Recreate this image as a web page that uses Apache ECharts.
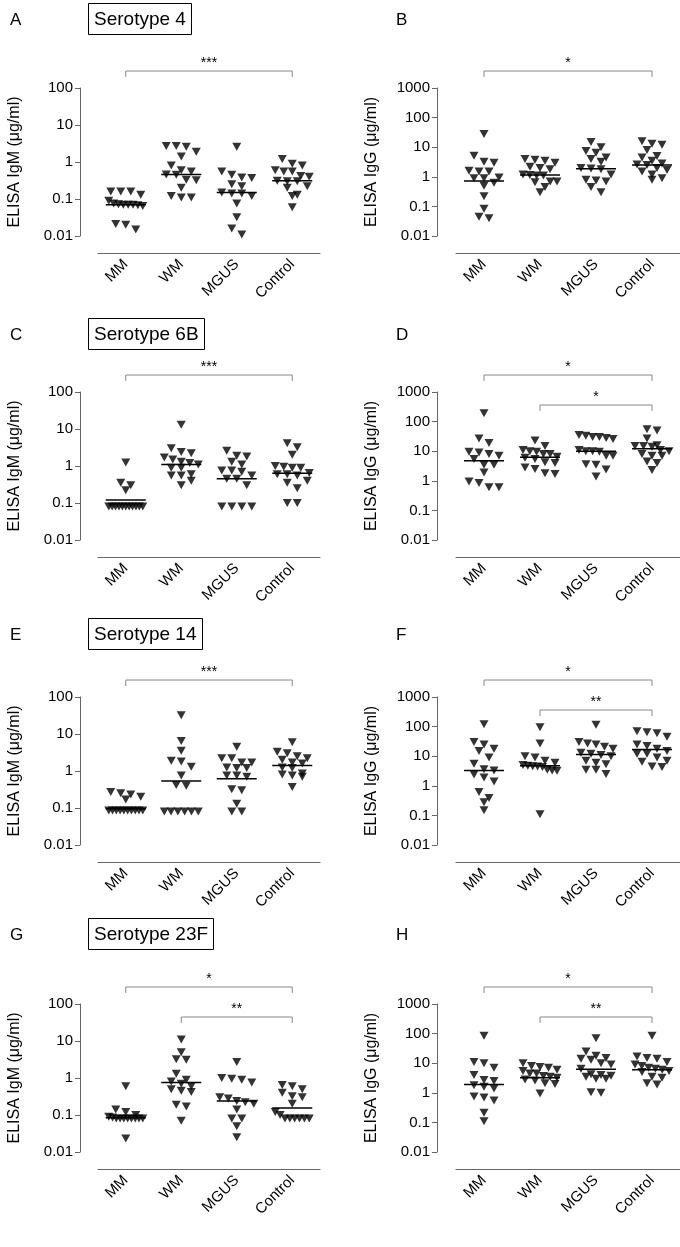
<!DOCTYPE html>
<html>
<head>
<meta charset="utf-8">
<script src="https://cdn.jsdelivr.net/npm/echarts@6/dist/echarts.min.js"></script>
<style>
html, body { margin: 0; padding: 0; background: #fff; }
#chart { width: 680px; height: 1247px; }
</style>
</head>
<body>
<div id="chart"></div>
<script>
var groups = ['MM', 'WM', 'MGUS', 'Control'];
var serotypes = ['Serotype 4', 'Serotype 6B', 'Serotype 14', 'Serotype 23F'];

// values per group (MM, WM, MGUS, Control), ug/ml
var igm4 = [
  [0.16, 0.16, 0.16, 0.13, 0.09, 0.075, 0.072, 0.07, 0.07, 0.068, 0.07, 0.065, 0.021, 0.015, 0.02],
  [2.7, 2.7, 2.6, 1.9, 1.4, 0.8, 0.6, 0.55, 0.46, 0.45, 0.33, 0.32, 0.2, 0.12, 0.11, 0.11],
  [2.6, 0.55, 0.45, 0.38, 0.37, 0.25, 0.22, 0.15, 0.14, 0.14, 0.12, 0.075, 0.032, 0.016, 0.011],
  [1.2, 0.9, 0.8, 0.6, 0.55, 0.55, 0.42, 0.4, 0.31, 0.3, 0.3, 0.22, 0.2, 0.13, 0.12, 0.06]
];
var igg4 = [
  [28, 5.1, 3.2, 3.0, 1.6, 1.5, 1.5, 0.95, 0.9, 0.9, 0.63, 0.5, 0.22, 0.083, 0.045, 0.04],
  [4.0, 3.8, 3.5, 3.0, 2.2, 2.0, 1.8, 1.2, 1.15, 1.1, 1.1, 0.7, 0.7, 0.65, 0.45, 0.3],
  [15, 10, 7.5, 6.5, 4.5, 4, 3.2, 2, 1.9, 1.8, 1.2, 0.8, 0.75, 0.7, 0.45, 0.3],
  [16, 13, 12, 8, 5, 4.5, 3.5, 2.8, 2.6, 2.5, 2, 1.7, 1.5, 1.2, 0.9, 0.8]
];
var igm6b = [
  [1.25, 0.35, 0.3, 0.22, 0.08, 0.08, 0.08, 0.08, 0.08, 0.08, 0.08, 0.08, 0.08, 0.08, 0.08],
  [13, 3, 2.4, 2.2, 1.7, 1.5, 1.3, 1.2, 1.1, 0.9, 0.9, 0.6, 0.55, 0.55, 0.4, 0.3],
  [2.6, 1.9, 1.8, 1.3, 1.1, 0.75, 0.75, 0.7, 0.55, 0.45, 0.45, 0.3, 0.08, 0.08, 0.08, 0.08],
  [4.1, 3.2, 2.0, 1.0, 0.95, 0.9, 0.9, 0.65, 0.6, 0.6, 0.55, 0.4, 0.35, 0.25, 0.1, 0.1]
];
var igg6b = [
  [190, 27, 19, 9.5, 9, 8, 7, 5.5, 3.5, 3.5, 1.9, 0.95, 0.85, 0.6, 0.6],
  [23, 15, 11, 10, 9.5, 8, 8, 6.5, 6, 5.5, 4.2, 4, 2.8, 2.5, 1.8, 1.7],
  [35, 33, 30, 30, 28, 26, 11, 10, 10, 9.5, 7, 7, 3.6, 3.5, 2.4, 1.4],
  [55, 50, 27, 16, 15, 15, 14, 11, 10, 8, 7, 7, 4.5, 4, 2.3]
];
var igm14 = [
  [0.27, 0.25, 0.23, 0.2, 0.17, 0.085, 0.085, 0.085, 0.085, 0.085, 0.085, 0.085, 0.085, 0.085, 0.085],
  [32, 6.5, 3.5, 1.9, 1.8, 1.3, 0.75, 0.42, 0.4, 0.08, 0.08, 0.08, 0.08, 0.08, 0.08],
  [4.5, 2.2, 2.2, 1.7, 1.7, 1.25, 1.2, 1.2, 0.75, 0.75, 0.7, 0.32, 0.3, 0.13, 0.08, 0.08],
  [6, 3.3, 3.0, 2.5, 2.2, 2.0, 1.7, 1.6, 1.25, 1.2, 0.85, 0.8, 0.75, 0.7, 0.37]
];
var igg14 = [
  [120, 30, 25, 18, 15, 9, 5.6, 3.6, 3.3, 2.4, 1.9, 1.4, 0.62, 0.39, 0.28, 0.15],
  [95, 27, 10, 9, 7, 6, 5, 4.8, 4.6, 4.5, 4.3, 3.5, 3.3, 3.2, 0.11],
  [115, 30, 27, 25, 21, 18, 13, 12, 11, 10, 7, 6, 5.3, 3.5, 3.5, 2.5],
  [70, 65, 60, 45, 25, 22, 18, 15, 12, 12, 9, 7, 6.5, 4.5, 4.3]
];
var igm23f = [
  [0.6, 0.14, 0.12, 0.1, 0.09, 0.085, 0.08, 0.08, 0.08, 0.08, 0.08, 0.08, 0.08, 0.08, 0.023],
  [11, 5, 3.2, 3.1, 1.3, 0.9, 0.8, 0.7, 0.6, 0.5, 0.45, 0.42, 0.19, 0.17, 0.07],
  [2.7, 1.0, 0.95, 0.9, 0.75, 0.3, 0.28, 0.24, 0.22, 0.2, 0.14, 0.08, 0.08, 0.05, 0.025],
  [0.65, 0.6, 0.5, 0.4, 0.32, 0.3, 0.2, 0.12, 0.1, 0.08, 0.08, 0.08, 0.08, 0.08, 0.08]
];
var igg23f = [
  [85, 11, 10, 7, 4, 2.7, 2.5, 1.8, 1.6, 1.4, 0.75, 0.7, 0.55, 0.21, 0.11],
  [10, 8, 7.5, 7, 6, 5.5, 4.5, 4.5, 3.7, 3.5, 3.2, 2.8, 2.6, 2.1, 2.0, 0.95],
  [70, 25, 18, 15, 14, 13, 10, 9, 6.5, 4.2, 4, 3.8, 3.5, 3, 3, 1.05, 1.0],
  [85, 17, 15, 14, 11, 9, 8, 7, 6.5, 6, 5.5, 5, 3.5, 3.2, 2.1, 1.9]
];

// horizontal bar per group (MM, WM, MGUS, Control)
var lineIgm4 = [0.07, 0.46, 0.15, 0.31];
var lineIgg4 = [0.72, 1.15, 1.86, 2.5];
var lineIgm6b = [0.12, 1.09, 0.45, 0.64];
var lineIgg6b = [4.8, 6.2, 10, 12];
var lineIgm14 = [0.096, 0.54, 0.62, 1.4];
var lineIgg14 = [3.3, 4.8, 11.5, 17];
var lineIgm23f = [0.084, 0.75, 0.24, 0.155];
var lineIgg23f = [1.9, 3.25, 6.3, 6];

// significance brackets: [from group, to group, level, number of stars]
var sigA = [[0, 3, 0, 3]];
var sigB = [[0, 3, 0, 1]];
var sigC = [[0, 3, 0, 3]];
var sigD = [[0, 3, 0, 1], [1, 3, 1, 1]];
var sigE = [[0, 3, 0, 3]];
var sigF = [[0, 3, 0, 1], [1, 3, 1, 2]];
var sigG = [[0, 3, 0, 1], [1, 3, 1, 2]];
var sigH = [[0, 3, 0, 1], [1, 3, 1, 2]];

var panels = [
  { letter: 'A', pts: igm4, mid: lineIgm4, sig: sigA, igg: false },
  { letter: 'B', pts: igg4, mid: lineIgg4, sig: sigB, igg: true },
  { letter: 'C', pts: igm6b, mid: lineIgm6b, sig: sigC, igg: false },
  { letter: 'D', pts: igg6b, mid: lineIgg6b, sig: sigD, igg: true },
  { letter: 'E', pts: igm14, mid: lineIgm14, sig: sigE, igg: false },
  { letter: 'F', pts: igg14, mid: lineIgg14, sig: sigF, igg: true },
  { letter: 'G', pts: igm23f, mid: lineIgm23f, sig: sigG, igg: false },
  { letter: 'H', pts: igg23f, mid: lineIgg23f, sig: sigH, igg: true }
];

var FONT = '"Liberation Sans", Arial, sans-serif';
var boxTop = [3, 318, 618, 918];
var axisTop = [88, 392, 697, 1004];
var cols = [
  { left: 98, width: 222, axisOff: 18, letterX: 5, boxX: 88 },
  { left: 456, width: 224, axisOff: 19, letterX: 391 }
];
var GRID_H = 148;

// simple swarm: points close in height are laid side by side
function swarm(vals, ci, pxDec, unitPx) {
  var sorted = vals.slice().sort(function (a, b) { return b - a; });
  var out = [], cl = [];
  function flush() {
    var n = cl.length;
    var step = Math.min(10, 34 / Math.max(n - 1, 1));
    cl.forEach(function (v, j) {
      out.push([ci + (j - (n - 1) / 2) * step / unitPx, v]);
    });
    cl = [];
  }
  sorted.forEach(function (v) {
    if (cl.length && Math.abs(Math.log10(cl[0]) - Math.log10(v)) * pxDec > 7) flush();
    cl.push(v);
  });
  flush();
  return out;
}

var chart = echarts.init(document.getElementById('chart'));
var grids = [], xAxes = [], yAxes = [], series = [], titles = [];

panels.forEach(function (p, k) {
  var row = Math.floor(k / 2), col = cols[k % 2];
  var ymax = p.igg ? 1000 : 100;
  var nDec = p.igg ? 5 : 4;
  var pxDec = GRID_H / nDec;
  var unitPx = col.width / 4;

  grids.push({ left: col.left, top: axisTop[row], width: col.width, height: GRID_H });

  titles.push({
    text: p.letter, left: col.letterX, top: boxTop[row] + 4,
    textStyle: { fontSize: 17, fontWeight: 'normal', color: '#000', fontFamily: FONT }
  });
  if (k % 2 === 0) {
    titles.push({
      text: serotypes[row], left: col.boxX, top: boxTop[row],
      borderColor: '#000', borderWidth: 1, padding: [7, 6, 6, 6],
      textStyle: { fontSize: 19, fontWeight: 'normal', color: '#000', fontFamily: FONT }
    });
  }

  xAxes.push({
    type: 'category', gridIndex: k, data: groups, offset: 17,
    axisLine: { onZero: false, lineStyle: { color: '#666', width: 1 } },
    axisTick: { alignWithLabel: true, length: 5, lineStyle: { color: '#666' } },
    axisLabel: { rotate: 45, fontSize: 15, color: '#000', fontFamily: FONT, margin: 9 }
  });
  xAxes.push({ type: 'value', gridIndex: k, min: -0.5, max: 3.5, show: false });

  yAxes.push({
    type: 'log', logBase: 10, gridIndex: k, min: 0.01, max: ymax, offset: col.axisOff,
    name: p.igg ? 'ELISA IgG (\u03bcg/ml)' : 'ELISA IgM (\u03bcg/ml)',
    nameLocation: 'middle', nameGap: 57,
    nameTextStyle: { fontSize: 16, color: '#000', fontFamily: FONT },
    axisLine: { show: true, onZero: false, lineStyle: { color: '#666', width: 1 } },
    axisTick: { show: true, length: 5, lineStyle: { color: '#666' } },
    splitLine: { show: false },
    axisLabel: {
      fontSize: 15, color: '#000', fontFamily: FONT, margin: 7,
      formatter: function (v) { return String(+(+v).toPrecision(1)); }
    }
  });

  var data = [];
  p.pts.forEach(function (vals, ci) {
    data = data.concat(swarm(vals, ci, pxDec, unitPx));
  });
  series.push({
    type: 'scatter', xAxisIndex: 2 * k + 1, yAxisIndex: k,
    symbol: 'triangle', symbolRotate: 180, symbolSize: [9, 8],
    itemStyle: { color: '#000' }, data: data, silent: true
  });

  series.push({
    type: 'custom', xAxisIndex: 2 * k + 1, yAxisIndex: k, silent: true,
    data: p.mid.map(function (m, ci) { return [ci, m]; }),
    renderItem: function (params, api) {
      var c = api.coord([api.value(0), api.value(1)]);
      return {
        type: 'line',
        shape: { x1: c[0] - 20, y1: c[1], x2: c[0] + 20, y2: c[1] },
        style: { stroke: '#000', lineWidth: 1.5 }
      };
    }
  });

  series.push({
    type: 'custom', xAxisIndex: 2 * k + 1, yAxisIndex: k, silent: true, clip: false,
    data: p.sig.map(function (s) { return [s[0], ymax, s[1], s[2], s[3]]; }),
    renderItem: function (params, api) {
      var a = api.coord([api.value(0), ymax]);
      var b = api.coord([api.value(2), ymax]);
      var y = a[1] - 17 + api.value(3) * 30;
      var stars = new Array(api.value(4) + 1).join('*');
      return {
        type: 'group',
        children: [
          {
            type: 'polyline',
            shape: { points: [[a[0], y + 6], [a[0], y], [b[0], y], [b[0], y + 6]] },
            style: { stroke: '#888', lineWidth: 1, fill: null }
          },
          {
            type: 'text', x: (a[0] + b[0]) / 2, y: y - 1,
            style: {
              text: stars, fill: '#000', fontSize: 14, fontFamily: FONT,
              align: 'center', verticalAlign: 'bottom'
            }
          }
        ]
      };
    }
  });
});

chart.setOption({
  backgroundColor: '#fff',
  animation: false,
  textStyle: { fontFamily: FONT },
  title: titles,
  grid: grids,
  xAxis: xAxes,
  yAxis: yAxes,
  series: series
});
</script>
</body>
</html>
